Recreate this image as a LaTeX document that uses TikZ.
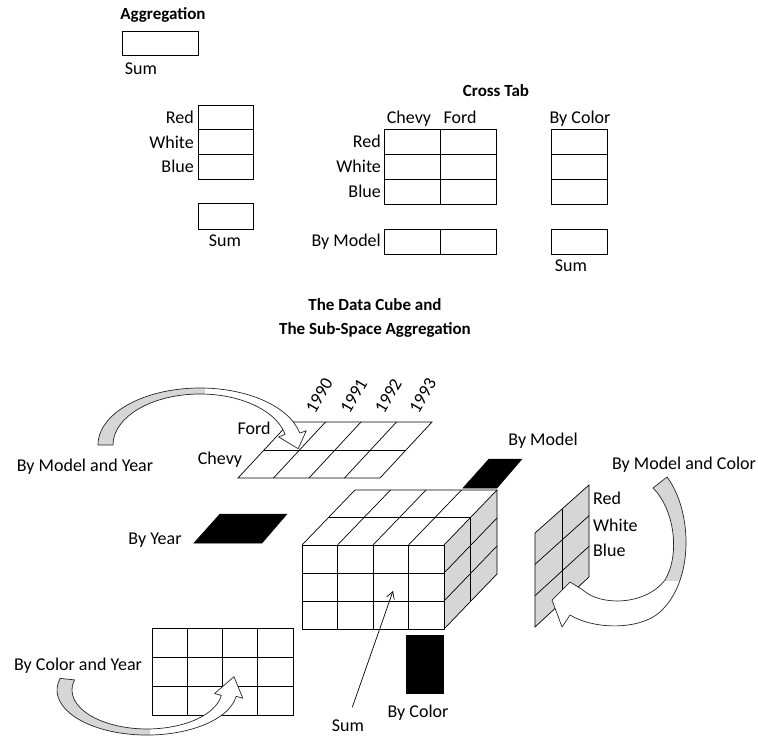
\documentclass[tikz,border=0pt]{standalone}
\usepackage{fontspec}
\setmainfont{Carlito}
\usetikzlibrary{arrows.meta}
\begin{document}
\begin{tikzpicture}[x=1pt,y=-1pt,
  lbl/.style={font=\fontsize{18}{21}\selectfont, inner sep=0pt, yshift=-2pt},
  blbl/.style={font=\fontsize{17}{24}\selectfont\bfseries, inner sep=0pt, align=center, yshift=-2pt},
  cell/.style={draw=black, line width=0.9pt},
  gridline/.style={draw=black, line width=0.7pt},
  slab/.style={fill=black, draw=black, line width=0.5pt},
  graybox/.style={fill=black!16},
  bandline/.style={draw=black!85, line width=0.7pt, line join=round}]
\fill[white] (0,0) rectangle (758,736);
\useasboundingbox (0,0) rectangle (758,736);

% ---------- Aggregation ----------
\node[blbl, anchor=mid] (agg) at (163,15) {Aggregation};
\draw[cell] (122,31) rectangle (198,55);
\node[lbl, anchor=mid] (aggsum) at (141,70) {Sum};

% ---------- colour column ----------
\draw[cell] (198,105) rectangle (253,179);
\draw[cell] (198,129.7) -- (253,129.7) (198,154.3) -- (253,154.3);
\node[lbl, anchor=mid east] (c1red) at (194,119) {Red};
\node[lbl, anchor=mid east] (c1white) at (194,144) {White};
\node[lbl, anchor=mid east] (c1blue) at (194,168) {Blue};
\draw[cell] (198,203) rectangle (253,229);
\node[lbl, anchor=mid] (c1sum) at (225,242) {Sum};

% ---------- Cross tab ----------
\node[blbl, anchor=mid] (ctitle) at (496,92) {Cross Tab};
\node[lbl, anchor=mid] (chevy) at (409,119) {Chevy};
\node[lbl, anchor=mid] (ford) at (460,119) {Ford};
\node[lbl, anchor=mid] (bycolorh) at (580,119) {By Color};
\draw[cell] (384,129) rectangle (496,204);
\draw[cell] (440,129) -- (440,204) (384,154) -- (496,154) (384,179) -- (496,179);
\node[lbl, anchor=mid east] (ctred) at (381,143) {Red};
\node[lbl, anchor=mid east] (ctwhite) at (381,168) {White};
\node[lbl, anchor=mid east] (ctblue) at (381,193) {Blue};
\draw[cell] (384,229) rectangle (496,254);
\draw[cell] (440,229) -- (440,254);
\node[lbl, anchor=mid east] (ctbymodel) at (381,242) {By Model};
\draw[cell] (551,129) rectangle (607,204);
\draw[cell] (551,154) -- (607,154) (551,179) -- (607,179);
\draw[cell] (551,229) rectangle (607,254);
\node[lbl, anchor=mid] (ctsum) at (571,267) {Sum};

% ---------- title ----------
\node[blbl] (title) at (375,316) {The Data Cube and\\The Sub-Space Aggregation};

% ---------- top slab (By Model and Year) ----------
\fill[white] (238,478) -- (380,478) -- (432,422) -- (290,422) -- cycle;
\draw[gridline] (238,478) -- (380,478) -- (432,422) -- (290,422) -- cycle;
\draw[gridline] (264,450) -- (406,450);
\foreach \k in {1,2,3} {
  \draw[gridline] ({238+35.5*\k},478) -- ({290+35.5*\k},422);
}
\foreach \yr [count=\i from 0] in {1990,1991,1992,1993} {
  \node[lbl, rotate=60, yshift=2pt] (y\yr) at ({321+34.5*\i},395) {\yr};
}
\node[lbl, anchor=mid] (sford) at (254,430) {Ford};
\node[lbl, anchor=mid] (schevy) at (220,460) {Chevy};
\node[lbl, anchor=mid] (bmy) at (85,467) {By Model and Year};

% arrow 1
\def\arrowone{(98,445) arc[start angle=180, end angle=348, x radius=102, y radius=57]
  -- (306.3,430.7) -- (298.2,448.7) -- (278.6,436.9) -- (285.1,434.4)
  arc[start angle=348, end angle=180, x radius=87, y radius=51] -- cycle}
\fill[white] \arrowone;
\begin{scope}
  \clip (0,370) rectangle (205,470);
  \fill[graybox] \arrowone;
\end{scope}
\draw[bandline] \arrowone;

% ---------- By Model slab ----------
\draw[slab] (463,488) -- (497,488) -- (522,459) -- (489,459) -- cycle;
\node[lbl, anchor=mid] (bymodel) at (543,441) {By Model};

% ---------- By Year slab ----------
\draw[slab] (194,543) -- (262,543) -- (287,514) -- (220,514) -- cycle;
\node[lbl, anchor=mid] (byyear) at (155,540) {By Year};

% ---------- cube ----------
\fill[white] (302,545) -- (355,490) -- (497,490) -- (444,545) -- cycle;
\fill[graybox] (444,545) -- (497,490) -- (497,574) -- (444,629) -- cycle;
\fill[white] (302,545) rectangle (444,629);
\draw[gridline] (302,545) -- (355,490) -- (497,490) -- (497,574) -- (444,629);
\draw[gridline] (302,545) rectangle (444,629);
\draw[gridline] (444,545) -- (497,490);
\foreach \k in {1,2,3} {
  \draw[gridline] ({302+35.5*\k},545) -- ({302+35.5*\k},629);
  \draw[gridline] ({302+35.5*\k},545) -- ({355+35.5*\k},490);
}
\draw[gridline] (302,573) -- (444,573) (302,601) -- (444,601);
\draw[gridline] (328.5,517.5) -- (470.5,517.5) -- (470.5,601.5);
\draw[gridline] (444,573) -- (497,518) (444,601) -- (497,546);

% ---------- By Color bar ----------
\draw[slab] (406,635) rectangle (443,693);
\node[lbl, anchor=mid] (bycolor) at (418,713) {By Color};

% Sum pointer
\node[lbl, anchor=mid] (sum) at (348,727) {Sum};
\coordinate (sumtip) at (393,591);
\draw[line width=0.7pt, -{Straight Barb[length=7pt,width=8pt]}, shorten <=13pt] (sum.north) -- (sumtip);

% ---------- right slab (By Model and Color) ----------
\draw[gridline, graybox] (535,533) -- (589,485) -- (589,577) -- (535,627) -- cycle;
\draw[gridline] (562,509) -- (562,602);
\draw[gridline] (535,564.3) -- (589,515.7) (535,595.7) -- (589,546.3);
\node[lbl, anchor=mid west] (rred) at (593,500) {Red};
\node[lbl, anchor=mid west] (rwhite) at (593,527) {White};
\node[lbl, anchor=mid west] (rblue) at (593,552) {Blue};
\node[lbl, anchor=mid] (bmc) at (684,465) {By Model and Color};

% arrow 2
\def\arrowtwo{(667,477) .. controls (692,510) and (695,580) .. (660,612)
  .. controls (640,630) and (595,630) .. (570,615)
  -- (562,627) -- (552,600) -- (570,582) -- (583,590)
  .. controls (600,606) and (645,606) .. (665,580)
  .. controls (680,555) and (675,510) .. (653,488) -- cycle}
\fill[white] \arrowtwo;
\begin{scope}
  \clip (630,440) rectangle (758,580);
  \fill[graybox] \arrowtwo;
\end{scope}
\draw[bandline] \arrowtwo;

% ---------- bottom grid (By Color and Year) ----------
\draw[cell] (152,628) rectangle (293,715);
\foreach \k in {1,2,3} {
  \draw[gridline] ({152+35.25*\k},628) -- ({152+35.25*\k},715);
}
\draw[gridline] (152,657) -- (293,657) (152,686) -- (293,686);
\node[lbl, anchor=mid] (bcy) at (78,666) {By Color and Year};

% arrow 3
\def\arrowthree{(60.1,678.4) arc[start angle=195, end angle=8, x radius=90, y radius=45]
  -- (242.8,698.2) -- (234,676.7) -- (214.6,693.5) -- (221.3,695.4)
  arc[start angle=8, end angle=195, x radius=75, y radius=39] -- cycle}
\fill[white] \arrowthree;
\begin{scope}
  \clip (0,660) rectangle (150,736);
  \fill[graybox] \arrowthree;
\end{scope}
\draw[bandline] \arrowthree;

\end{tikzpicture}
\end{document}
